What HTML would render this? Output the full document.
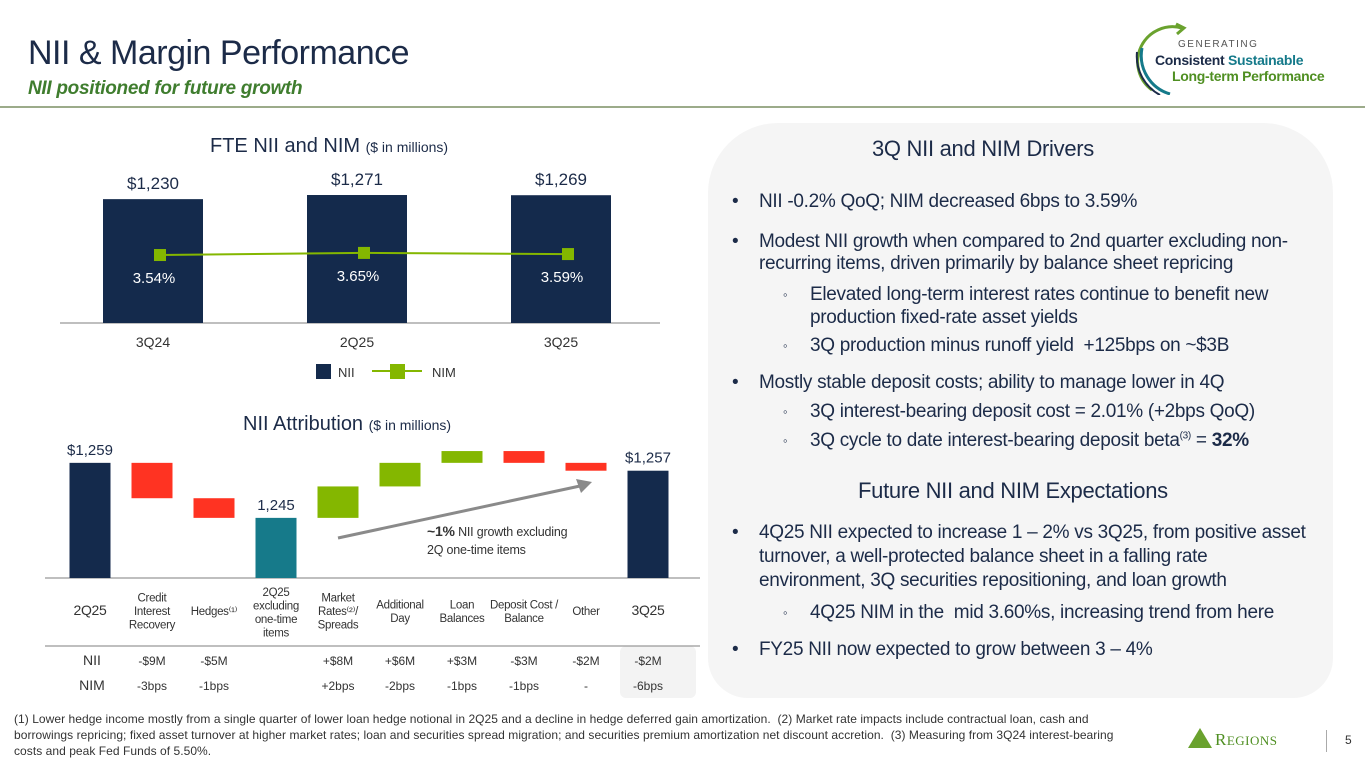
<!DOCTYPE html>
<html><head><meta charset="utf-8"><style>
*{margin:0;padding:0;box-sizing:border-box}
body{width:1365px;height:768px;background:#fff;font-family:"Liberation Sans",sans-serif;color:#1c2b48;position:relative;overflow:hidden}
.a{position:absolute;white-space:nowrap}
.p{font-size:19px;letter-spacing:-0.3px;color:#1c2b48}
.b{position:absolute;left:-27px}
.fn{font-size:12px;letter-spacing:0.05px;color:#333;line-height:16px}
</style></head><body>
<div class="a" style="left:28px;top:34px;font-size:34px;letter-spacing:-0.5px;color:#1c2b48">NII &amp; Margin Performance</div>
<div class="a" style="left:28px;top:78px;font-size:19px;font-style:italic;font-weight:bold;color:#3f7d2e;letter-spacing:-0.3px">NII positioned for future growth</div>
<div class="a" style="left:0;top:106px;width:1365px;height:2px;background:#9cab8a"></div>
<div class="a" style="left:1130px;top:20px;width:230px;height:75px">
<svg width="60" height="75" style="position:absolute;left:0;top:0"><path d="M52 8 A35 35 0 0 0 22 70" stroke="#6aa22e" stroke-width="3" fill="none"/><path d="M46 4 L54 8 L47 14" stroke="#6aa22e" stroke-width="3" fill="none"/><path d="M12 28 A40 40 0 0 0 40 74" stroke="#157a8a" stroke-width="3" fill="none"/><path d="M7 32 A44 44 0 0 0 30 75" stroke="#1c2b48" stroke-width="2" fill="none"/></svg>
<div class="a" style="left:48px;top:19px;font-size:10px;letter-spacing:1.5px;color:#555">GENERATING</div>
<div class="a" style="left:25px;top:32px;font-size:14px;font-weight:bold;letter-spacing:-0.3px;color:#1c2b48">Consistent <span style="color:#157a8a">Sustainable</span></div>
<div class="a" style="left:42px;top:48px;font-size:14px;font-weight:bold;letter-spacing:-0.3px;color:#4f8f22">Long-term Performance</div>
</div>

<div class="a" style="left:210px;top:135px;font-size:20px;color:#1c2b48">FTE NII and NIM <span style="font-size:14px">($ in millions)</span></div>
<svg id="top" class="a" style="left:0;top:150px" width="700" height="240"></svg>

<div class="a" style="left:243px;top:413px;font-size:20px;color:#1c2b48">NII Attribution <span style="font-size:14px">($ in millions)</span></div>
<div class="a" style="left:620px;top:646px;width:76px;height:52px;background:#f3f3f3;border-radius:6px"></div>
<svg id="wf" class="a" style="left:0;top:430px" width="700" height="270"></svg>

<div class="a" style="left:708px;top:123px;width:625px;height:575px;background:#f5f5f5;border-radius:70px 70px 40px 40px"></div>
<div class="a" style="left:872px;top:136px;font-size:22px;letter-spacing:-0.3px">3Q NII and NIM Drivers</div>
<div class="a p" style="left:759px;top:191px"><span class="b">•</span>NII -0.2% QoQ; NIM decreased 6bps to 3.59%</div>
<div class="a p" style="left:759px;top:231px"><span class="b">•</span>Modest NII growth when compared to 2nd quarter excluding non-</div>
<div class="a p" style="left:759px;top:253px">recurring items, driven primarily by balance sheet repricing</div>
<div class="a p" style="left:810px;top:284px"><span class="b" style="font-size:13px;top:3px">◦</span>Elevated long-term interest rates continue to benefit new</div>
<div class="a p" style="left:810px;top:307px">production fixed-rate asset yields</div>
<div class="a p" style="left:810px;top:335px"><span class="b" style="font-size:13px;top:3px">◦</span>3Q production minus runoff yield&nbsp; +125bps on ~$3B</div>
<div class="a p" style="left:759px;top:372px"><span class="b">•</span>Mostly stable deposit costs; ability to manage lower in 4Q</div>
<div class="a p" style="left:810px;top:401px"><span class="b" style="font-size:13px;top:3px">◦</span>3Q interest-bearing deposit cost = 2.01% (+2bps QoQ)</div>
<div class="a p" style="left:810px;top:430px"><span class="b" style="font-size:13px;top:3px">◦</span>3Q cycle to date interest-bearing deposit beta<sup style="font-size:10px">(3)</sup> = <b>32%</b></div>
<div class="a" style="left:858px;top:478px;font-size:22px;letter-spacing:-0.3px">Future NII and NIM Expectations</div>
<div class="a p" style="left:759px;top:522px"><span class="b">•</span>4Q25 NII expected to increase 1 – 2% vs 3Q25, from positive asset</div>
<div class="a p" style="left:759px;top:546px">turnover, a well-protected balance sheet in a falling rate</div>
<div class="a p" style="left:759px;top:570px">environment, 3Q securities repositioning, and loan growth</div>
<div class="a p" style="left:810px;top:602px"><span class="b" style="font-size:13px;top:3px">◦</span>4Q25 NIM in the&nbsp; mid 3.60%s, increasing trend from here</div>
<div class="a p" style="left:759px;top:639px"><span class="b">•</span>FY25 NII now expected to grow between 3 – 4%</div>

<div class="a fn" style="left:14px;top:711px">(1) Lower hedge income mostly from a single quarter of lower loan hedge notional in 2Q25 and a decline in hedge deferred gain amortization.&nbsp; (2) Market rate impacts include contractual loan, cash and<br>borrowings repricing; fixed asset turnover at higher market rates; loan and securities spread migration; and securities premium amortization net discount accretion.&nbsp; (3) Measuring from 3Q24 interest-bearing<br>costs and peak Fed Funds of 5.50%.</div>
<div class="a" style="left:1188px;top:728px;height:22px">
<svg width="24" height="20" style="position:absolute;left:0;top:0"><polygon points="12,0 24,20 0,20" fill="#6aa22e"/></svg>
<span class="a" style="left:27px;top:2px;font-family:'Liberation Serif',serif;font-size:17px;color:#4f8f22;letter-spacing:0.5px">R<span style="font-size:13px">EGIONS</span></span></div>
<div class="a" style="left:1326px;top:730px;width:1px;height:22px;background:#aaa"></div>
<div class="a" style="left:1345px;top:733px;font-size:12px;color:#333">5</div>

<script>
// top chart data
const topCats=["3Q24","2Q25","3Q25"];
const niiVals=[1230,1271,1269];
const nimVals=[3.54,3.65,3.59];
const niiLabels=["$1,230","$1,271","$1,269"];
const nimLabels=["3.54%","3.65%","3.59%"];
// waterfall data
const wfCats=[["2Q25"],["Credit","Interest","Recovery"],["Hedges⁽¹⁾"],["2Q25","excluding","one-time","items"],["Market","Rates⁽²⁾/","Spreads"],["Additional","Day"],["Loan","Balances"],["Deposit Cost /","Balance"],["Other"],["3Q25"]];
const wfDeltas=[1259,-9,-5,null,8,6,3,-3,-2,null];
const wfNII=["","-$9M","-$5M","","+$8M","+$6M","+$3M","-$3M","-$2M","-$2M"];
const wfNIM=["","-3bps","-1bps","","+2bps","-2bps","-1bps","-1bps","-","-6bps"];

const NS="http://www.w3.org/2000/svg";
function mk(svg,t,a,txt){const e=document.createElementNS(NS,t);for(const k in a)e.setAttribute(k,a[k]);if(txt!==undefined)e.textContent=txt;svg.appendChild(e);return e;}

// ---- top chart (svg top=150) ----
const T=document.getElementById('top');
const tBase=173;
const yN=v=>tBase-v*0.1007;
const yM=v=>tBase-v*19.2;
const xT=i=>153+i*204;
mk(T,'line',{x1:60,x2:660,y1:tBase,y2:tBase,stroke:'#999','stroke-width':1.2});
niiVals.forEach((v,i)=>{
 const r=mk(T,'rect',{x:xT(i)-50,y:yN(v),width:100,height:tBase-yN(v),fill:'#142a4c'});
 
 
 mk(T,'text',{x:xT(i),y:yN(v)-10,'text-anchor':'middle','font-size':17,fill:'#1c2b48'},niiLabels[i]);
 mk(T,'text',{x:xT(i),y:tBase+24,'text-anchor':'middle','font-size':14,fill:'#333'},topCats[i]);
});
const pts=nimVals.map((v,i)=>xT(i)+7+','+yM(v)).join(' ');
const pl=mk(T,'polyline',{points:pts,fill:'none',stroke:'#84b700','stroke-width':2});


nimVals.forEach((v,i)=>{
 const m=mk(T,'rect',{x:xT(i)+1,y:yM(v)-6,width:12,height:12,fill:'#84b700'});
 
 
 mk(T,'text',{x:xT(i)+1,y:yM(v)+28,'text-anchor':'middle','font-size':15,fill:'#fff'},nimLabels[i]);
});
mk(T,'rect',{x:316,y:214,width:15,height:15,fill:'#142a4c'});
mk(T,'text',{x:338,y:227,'font-size':13,fill:'#333'},'NII');
mk(T,'line',{x1:372,x2:422,y1:221,y2:221,stroke:'#84b700','stroke-width':2});
mk(T,'rect',{x:390,y:214,width:15,height:15,fill:'#84b700'});
mk(T,'text',{x:432,y:227,'font-size':13,fill:'#333'},'NIM');

// ---- waterfall (svg top=430) ----
const W=document.getElementById('wf');
const wBase=148;
const wMin=1229.7, wScale=3.93;
const yW=v=>wBase-(v-wMin)*wScale;
const xW=i=>90+i*62;
mk(W,'line',{x1:45,x2:700,y1:wBase,y2:wBase,stroke:'#999','stroke-width':1.2});
mk(W,'line',{x1:45,x2:700,y1:216,y2:216,stroke:'#999','stroke-width':1.2});
let run=0;
wfDeltas.forEach((d,i)=>{
 let y0,y1,fill,label=null;
 if(i===0){run=d;y0=yW(d);y1=wBase;fill='#142a4c';label='$'+d.toLocaleString('en-US');}
 else if(d===null && i===3){y0=yW(run);y1=wBase;fill='#167a8a';label=run.toLocaleString('en-US');}
 else if(d===null){y0=yW(run);y1=wBase;fill='#142a4c';label='$'+run.toLocaleString('en-US');}
 else {const n=run+d;y0=yW(Math.max(run,n));y1=yW(Math.min(run,n));fill=d<0?'#ff3322':'#84b700';run=n;}
 const r=mk(W,'rect',{x:xW(i)-20.5,y:y0,width:41,height:y1-y0,fill:fill});
 
 
 if(label) mk(W,'text',{x:xW(i),y:y0-8,'text-anchor':'middle','font-size':15,fill:'#1c2b48'},label);
 const c=wfCats[i];
 const big=c.length===1&&/Q/.test(c[0]);
 const lh=13.5, fs=big?14:11.5;
 const cy=c.length===4?166:185-(c.length-1)*lh/2;
 c.forEach((s,k)=>mk(W,'text',{x:xW(i),y:cy+k*lh,'text-anchor':'middle','font-size':fs,fill:'#333','letter-spacing':'-0.3'},s));
 mk(W,'text',{x:xW(i),y:235,'text-anchor':'middle','font-size':12,fill:'#333'},wfNII[i]);
 mk(W,'text',{x:xW(i),y:260,'text-anchor':'middle','font-size':12,fill:'#333'},wfNIM[i]);
});
mk(W,'text',{x:92,y:235,'text-anchor':'middle','font-size':14,fill:'#333'},'NII');
mk(W,'text',{x:92,y:260,'text-anchor':'middle','font-size':14,fill:'#333'},'NIM');
const ar=mk(W,'line',{x1:338,y1:108,x2:580,y2:56,stroke:'#8a8a8a','stroke-width':3});


mk(W,'polygon',{points:'592,52 576,49 581,63',fill:'#8a8a8a'});
mk(W,'text',{x:427,y:106,'font-size':12.5,fill:'#333','letter-spacing':'-0.2'}).innerHTML='<tspan font-weight="bold" font-size="14">~1%</tspan> NII growth excluding';
mk(W,'text',{x:427,y:124,'font-size':12.5,fill:'#333','letter-spacing':'-0.2'},'2Q one-time items');
</script>
</body></html>
